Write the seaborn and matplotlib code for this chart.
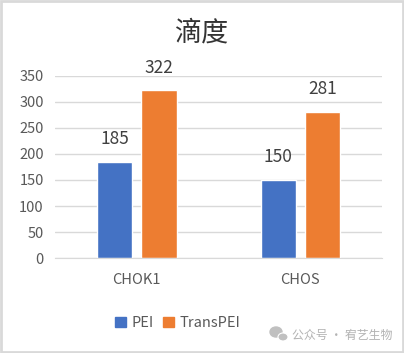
import pandas as pd
import matplotlib
import matplotlib.pyplot as plt
from matplotlib.patches import Patch, Ellipse
matplotlib.use("Agg")
import seaborn as sns

# data
cells = ["CHOK1", "CHOS"]
pei = [185, 150]
trans_pei = [322, 281]
yticks = [0, 50, 100, 150, 200, 250, 300, 350]

df = pd.DataFrame({
    "cell": cells * 2,
    "reagent": ["PEI"] * 2 + ["TransPEI"] * 2,
    "titer": pei + trans_pei,
})

sns.set_style("white")
plt.rcParams["font.family"] = ["Noto Sans CJK SC", "DejaVu Sans"]

W, H = 404, 353
fig = plt.figure(figsize=(W / 100, H / 100), dpi=100)
ax = fig.add_axes([0.136, 0.269, 0.81, 0.516])

sns.barplot(data=df, x="cell", y="titer", hue="reagent",
            palette=["#4472C4", "#ED7D31"], width=0.54, gap=0.2,
            saturation=1, legend=False, ax=ax)

for c in ax.containers:
    ax.bar_label(c, padding=10, fontsize=12.5, color="#404040")

ax.set_xlim(-0.5, 1.5)
ax.set_ylim(0, 350)
ax.set_yticks(yticks)
ax.yaxis.grid(True, color="#d9d9d9", linewidth=1)
ax.set_axisbelow(True)
for s in ["top", "right", "left"]:
    ax.spines[s].set_visible(False)
ax.spines["bottom"].set_color("#d9d9d9")
ax.tick_params(axis="both", length=0, labelsize=10.5, colors="#595959")
ax.tick_params(axis="y", pad=8)
ax.tick_params(axis="x", pad=11)
ax.set_xlabel("")
ax.set_ylabel("")

fig.text(0.5, 0.907, "滴度", ha="center", va="center", fontsize=19.5,
         color="#333333")

# legend
handles = [Patch(color="#4472C4"), Patch(color="#ED7D31")]
fig.legend(handles, ["PEI", "TransPEI"], loc="center", bbox_to_anchor=(0.44, 0.085),
           ncol=2, frameon=False, fontsize=10.5, handlelength=0.75, handleheight=0.75,
           handletextpad=0.4, columnspacing=0.6, labelcolor="#595959")

# watermark
fig.text(392 / W, 1 - 335 / H, "公众号 · 宥艺生物", ha="right", va="center",
         fontsize=8.6, color="#b3b3b3")
fig.patches.append(Ellipse((276 / W, 1 - 332 / H), 12 / W, 10 / H,
                           transform=fig.transFigure, color="#c0c0c0"))
fig.patches.append(Ellipse((283 / W, 1 - 337 / H), 10 / W, 8 / H,
                           transform=fig.transFigure, color="#c0c0c0",
                           ec="white", lw=0.8))

# border
fig.patches.append(plt.Rectangle((0.002, 0.002), 0.996, 0.996, transform=fig.transFigure,
                                 fill=False, edgecolor="#d9d9d9", linewidth=2))

fig.savefig("out.png", dpi=100)
